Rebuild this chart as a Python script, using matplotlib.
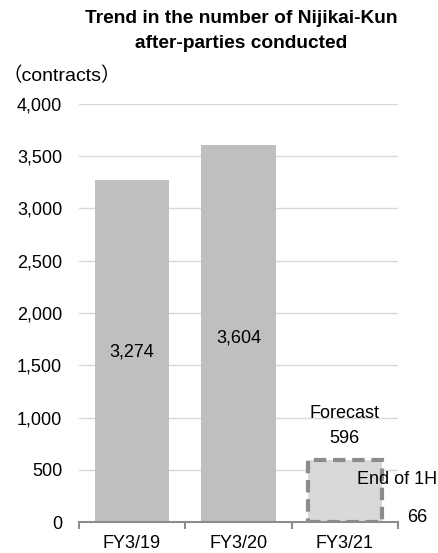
import matplotlib
matplotlib.use("Agg")
import matplotlib.pyplot as plt

plt.rcParams['font.family'] = ['Liberation Sans', 'Noto Sans CJK JP', 'DejaVu Sans']

# data
years = ['FY3/19', 'FY3/20', 'FY3/21']
actual = [3274, 3604, 66]
forecast_value = 596
yticks = [0, 500, 1000, 1500, 2000, 2500, 3000, 3500, 4000]

fig = plt.figure(figsize=(4.38, 5.53), dpi=100)
ax = fig.add_axes([0.180, 0.056, 0.729, 0.756])

x = list(range(len(years)))
bar_w = 0.70

ax.bar(x, actual, width=bar_w, color='#bfbfbf', zorder=2)
# forecast box (dashed) for the last year, drawn over the small 1H bar
ax.bar(x[2], forecast_value, width=bar_w, color='#d9d9d9', edgecolor='#8c8c8c',
       linestyle=(0, (3, 1.6)), linewidth=3, zorder=3)

ax.set_ylim(0, 4000)
ax.set_xlim(-0.5, 2.5)
ax.set_yticks(yticks)
ax.set_yticklabels([f'{v:,}' for v in yticks], fontsize=13)
ax.set_xticks(x)
ax.set_xticklabels(years, fontsize=13)
ax.set_xticks([-0.5, 0.5, 1.5, 2.5], minor=True)
ax.tick_params(axis='x', which='major', length=0, pad=9)
ax.tick_params(axis='x', which='minor', length=5, width=1.5, color='#8c8c8c', direction='out')
ax.tick_params(axis='y', length=0, pad=12)

ax.grid(axis='y', color='#d9d9d9', linewidth=1)
ax.set_axisbelow(True)
for s in ['top', 'right', 'left']:
    ax.spines[s].set_visible(False)
ax.spines['bottom'].set_color('#8c8c8c')
ax.spines['bottom'].set_linewidth(1.5)
ax.spines['bottom'].set_zorder(4)

# value labels
ax.text(x[0], 1627, f'{actual[0]:,}', ha='center', va='center', fontsize=13)
ax.text(x[1], 1761, f'{actual[1]:,}', ha='center', va='center', fontsize=13)
ax.text(x[2], 1043, 'Forecast', ha='center', va='center', fontsize=13)
ax.text(x[2], 804, f'{forecast_value:,}', ha='center', va='center', fontsize=13)
ax.text(2.87, 411, 'End of 1H', ha='right', va='center', fontsize=13, zorder=5)
ax.text(2.68, 48, f'{actual[2]:,}', ha='center', va='center', fontsize=13)

fig.text(0.55, 0.967, 'Trend in the number of Nijikai-Kun', ha='center', va='center',
         fontsize=13.8, fontweight='bold')
fig.text(0.55, 0.922, 'after-parties conducted', ha='center', va='center',
         fontsize=13.8, fontweight='bold')
fig.text(0.005, 0.862, '（contracts）', ha='left', va='center', fontsize=14)

fig.savefig('out.png', dpi=100)
